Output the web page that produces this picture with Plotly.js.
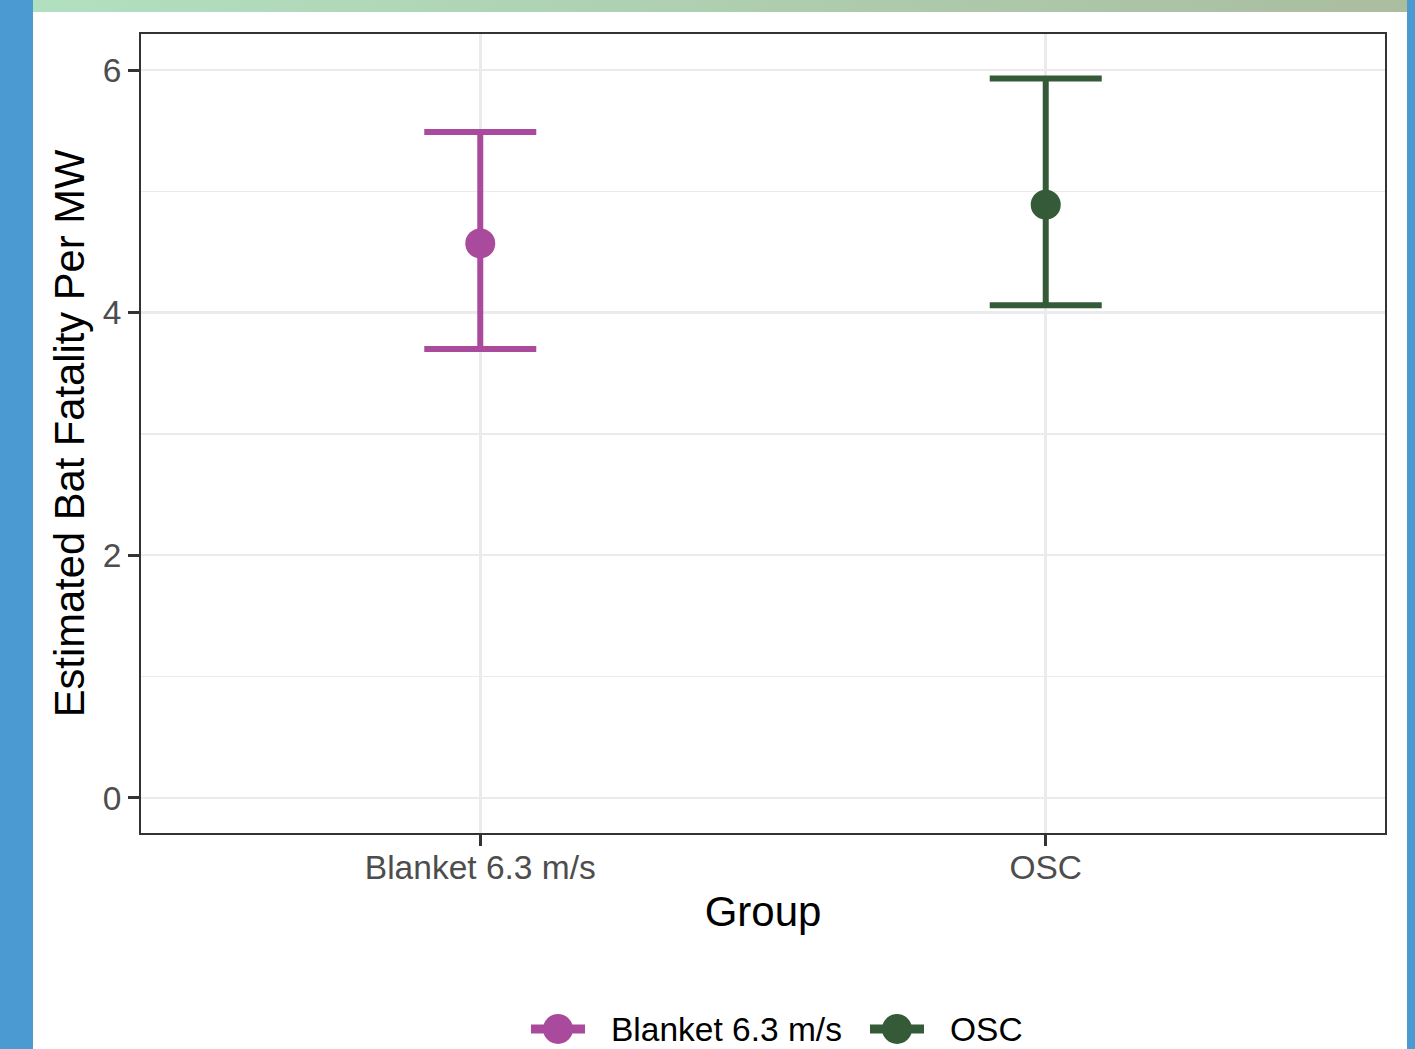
<!DOCTYPE html>
<html>
<head>
<meta charset="utf-8">
<script src="https://cdn.plot.ly/plotly-3.0.1.min.js"></script>
<style>
  html, body { margin:0; padding:0; background:#ffffff; width:1415px; height:1049px; overflow:hidden; }
  #leftbar { position:absolute; left:0; top:0; width:33px; height:1049px; background:#4b9bd2; z-index:5; }
  #rightbar { position:absolute; left:1407px; top:0; width:8px; height:1049px; background:#4b9bd2; z-index:5; }
  #topbar { position:absolute; left:33px; top:0; width:1374px; height:12px; background:linear-gradient(to right, #b1e0c1, #abbd9f); z-index:5; }
  #chart { position:absolute; left:0; top:0; width:1415px; height:1049px; }
</style>
</head>
<body>
<div id="chart"></div>
<div id="leftbar"></div>
<div id="rightbar"></div>
<div id="topbar"></div>
<script>
const groups = ["Blanket 6.3 m/s", "OSC"];
const estimate = [4.57, 4.89];
const lower = [3.70, 4.06];
const upper = [5.49, 5.93];
const colors = ["#AA4A9C", "#355A38"];

const traces = groups.map((g, i) => ({
  type: "scatter",
  mode: "markers",
  name: g,
  x: [g],
  y: [estimate[i]],
  marker: { color: colors[i], size: 30 },
  error_y: {
    type: "data",
    symmetric: false,
    array: [upper[i] - estimate[i]],
    arrayminus: [estimate[i] - lower[i]],
    color: colors[i],
    thickness: 6,
    width: 56
  },
  showlegend: false
}));

const font = "'Liberation Sans', Arial, sans-serif";

// plot area geometry (pixels) used to place the custom legend keys in paper coords
const M = { l: 141, r: 30, t: 34, b: 216 };
const W = 1415, H = 1049;
const pw = W - M.l - M.r, ph = H - M.t - M.b;
const px = v => (v - M.l) / pw;
const py = v => (H - M.b - v) / ph;

const legendKeyX = [558, 897];
const legendTextX = [609, 948];
const legendY = 1029;

const shapes = [];
const annotations = [];
groups.forEach((g, i) => {
  shapes.push({
    type: "line", xref: "paper", yref: "paper",
    x0: px(legendKeyX[i] - 27), x1: px(legendKeyX[i] + 27),
    y0: py(legendY), y1: py(legendY),
    line: { color: colors[i], width: 9 }
  });
  shapes.push({
    type: "circle", xref: "paper", yref: "paper",
    xsizemode: "pixel", ysizemode: "pixel",
    xanchor: px(legendKeyX[i]), yanchor: py(legendY),
    x0: -15, x1: 15, y0: -15, y1: 15,
    fillcolor: colors[i], line: { width: 0 }
  });
  annotations.push({
    xref: "paper", yref: "paper",
    x: px(legendTextX[i]), y: py(legendY),
    xanchor: "left", yanchor: "middle",
    text: g, showarrow: false,
    font: { size: 33.5, color: "#000000", family: font }
  });
});

const layout = {
  width: W,
  height: H,
  margin: M,
  paper_bgcolor: "#ffffff",
  plot_bgcolor: "#ffffff",
  font: { family: font, color: "#000000" },
  showlegend: false,
  shapes: shapes,
  annotations: annotations,
  xaxis: {
    type: "category",
    categoryorder: "array",
    categoryarray: groups,
    range: [-0.6, 1.6],
    showgrid: true,
    gridcolor: "#ebebeb",
    gridwidth: 2.5,
    zeroline: false,
    showline: true,
    mirror: true,
    linecolor: "#333333",
    linewidth: 2,
    ticks: "outside",
    ticklen: 11,
    tickwidth: 3,
    tickcolor: "#333333",
    ticklabelstandoff: -7,
    tickfont: { size: 33.5, color: "#4d4d4d", family: font },
    title: { text: "Group", font: { size: 42, color: "#000000", family: font }, standoff: 11 },
    automargin: false
  },
  yaxis: {
    range: [-0.29, 6.297],
    tickvals: [0, 2, 4, 6],
    ticktext: ["0", "2", "4", "6"],
    showgrid: true,
    gridcolor: "#ebebeb",
    gridwidth: 2.5,
    minor: { tickvals: [1, 3, 5], showgrid: true, gridcolor: "#ebebeb", gridwidth: 1.2, ticks: "" },
    zeroline: false,
    showline: true,
    mirror: true,
    linecolor: "#333333",
    linewidth: 2,
    ticks: "outside",
    ticklen: 11,
    tickwidth: 3,
    tickcolor: "#333333",
    tickfont: { size: 33.5, color: "#4d4d4d", family: font },
    title: { text: "Estimated Bat Fatality Per MW", font: { size: 41.7, color: "#000000", family: font }, standoff: 5 },
    automargin: false
  }
};

Plotly.newPlot("chart", traces, layout, { displayModeBar: false, staticPlot: true });
</script>
</body>
</html>
